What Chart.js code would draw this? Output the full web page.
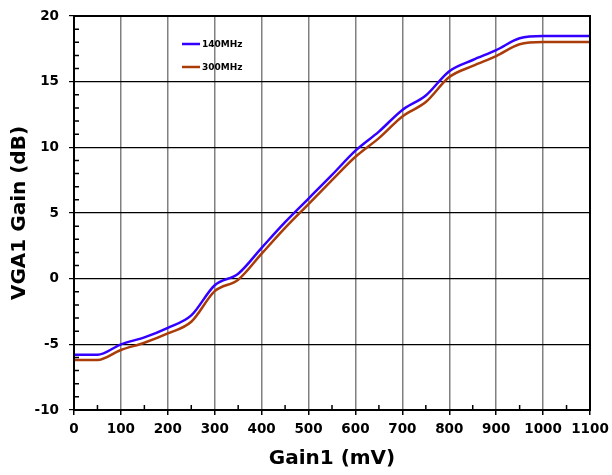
<!DOCTYPE html>
<html>
<head>
<meta charset="utf-8">
<script src="https://cdn.jsdelivr.net/npm/chart.js@4/dist/chart.umd.min.js"></script>
<style>
  html, body { margin: 0; padding: 0; background: #fff; }
  #wrap { width: 612px; height: 475px; }
</style>
</head>
<body>
<div id="wrap"><canvas id="gainChart"></canvas></div>
<script>
// Gain1 control voltage (mV)
const gainMv = [0, 50, 100, 150, 200, 250, 300, 350, 400, 450, 500, 550,
  600, 650, 700, 750, 800, 850, 900, 950, 1000, 1050, 1100];
// VGA1 gain (dB) per frequency
const gain140 = [-5.8, -5.8, -5.0, -4.47, -3.74, -2.8, -0.5, 0.38, 2.35, 4.3, 6.1, 7.9,
  9.75, 11.2, 12.85, 13.95, 15.8, 16.65, 17.4, 18.3, 18.47, 18.47, 18.47];
const gain300 = [-6.2, -6.2, -5.43, -4.88, -4.17, -3.28, -0.95, -0.08, 1.9, 3.86, 5.68, 7.5,
  9.28, 10.7, 12.35, 13.45, 15.35, 16.2, 16.95, 17.85, 18.02, 18.02, 18.02];
const seriesNames = ["140MHz", "300MHz"];
const xTicks = { min: 0, max: 1100, step: 100, minor: 50 };
const yTicks = { min: -10, max: 20, step: 5, minor: 1 };

const FONT = "'DejaVu Sans', Verdana, sans-serif";

// frame, minor ticks and the small legend inside the plot
const framePlugin = {
  id: 'frame',
  afterDraw(chart) {
    const { ctx, chartArea: a, scales } = chart;
    ctx.save();
    ctx.strokeStyle = '#000';
    ctx.lineWidth = 1.5;
    ctx.beginPath();
    for (let v = xTicks.min + xTicks.minor; v < xTicks.max; v += xTicks.step) {
      const px = scales.x.getPixelForValue(v);
      ctx.moveTo(px, a.bottom);
      ctx.lineTo(px, a.bottom - 5);
    }
    for (let v = yTicks.min + yTicks.minor; v < yTicks.max; v += yTicks.minor) {
      if (v % yTicks.step === 0) continue;
      const py = scales.y.getPixelForValue(v);
      ctx.moveTo(a.left, py);
      ctx.lineTo(a.left + 5, py);
    }
    ctx.stroke();
    ctx.lineWidth = 2;
    ctx.strokeRect(a.left, a.top, a.right - a.left, a.bottom - a.top);

    // legend
    ctx.font = 'bold 9px ' + FONT;
    ctx.textBaseline = 'middle';
    chart.data.datasets.forEach((ds, i) => {
      const y = 44 + i * 23;
      ctx.strokeStyle = ds.borderColor;
      ctx.lineWidth = 2.5;
      ctx.beginPath();
      ctx.moveTo(182, y);
      ctx.lineTo(200, y);
      ctx.stroke();
      ctx.fillStyle = '#000';
      ctx.fillText(ds.label, 202, y + 0.5);
    });
    ctx.restore();
  }
};

const ctx = document.getElementById('gainChart').getContext('2d');
new Chart(ctx, {
  type: 'line',
  data: {
    datasets: [
      { label: seriesNames[0], data: gainMv.map((x, i) => ({ x, y: gain140[i] })),
        borderColor: '#3300ff', borderWidth: 2.5 },
      { label: seriesNames[1], data: gainMv.map((x, i) => ({ x, y: gain300[i] })),
        borderColor: '#aa3c0a', borderWidth: 2.5 }
    ]
  },
  options: {
    responsive: true,
    maintainAspectRatio: false,
    animation: false,
    events: [],
    layout: { padding: { left: 0, right: 22, top: 16, bottom: 0 } },
    elements: {
      point: { radius: 0 },
      line: { cubicInterpolationMode: 'monotone', fill: false }
    },
    plugins: { legend: { display: false }, tooltip: { enabled: false } },
    scales: {
      x: {
        type: 'linear',
        min: xTicks.min, max: xTicks.max,
        afterFit: s => { s.height = 65; s.paddingLeft = 0; s.paddingRight = 0; },
        ticks: { stepSize: xTicks.step, color: '#000', padding: 6,
          maxRotation: 0, minRotation: 0, autoSkip: false,
          callback: v => String(v),
          font: { family: FONT, size: 13.5, weight: 'bold' } },
        grid: { color: c => c.tick && c.tick.value % 1100 === 0 ? '#000' : '#808080',
          lineWidth: 1.5, tickLength: 5, tickColor: '#000' },
        border: { color: '#000', width: 2 },
        title: { display: true, text: 'Gain1 (mV)', color: '#000', padding: { top: 2 },
          font: { family: FONT, size: 20, weight: 'bold' } }
      },
      y: {
        min: yTicks.min, max: yTicks.max,
        afterFit: s => { s.width = 74; s.paddingTop = 0; s.paddingBottom = 0; },
        ticks: { stepSize: yTicks.step, color: '#000', padding: 10,
          font: { family: FONT, size: 13.5, weight: 'bold' } },
        grid: { color: '#000', lineWidth: 1.2, tickLength: 5, tickColor: '#000' },
        border: { color: '#000', width: 2 },
        title: { display: true, text: 'VGA1 Gain (dB)', color: '#000', padding: { top: 8, bottom: 0 },
          font: { family: FONT, size: 20, weight: 'bold' } }
      }
    }
  },
  plugins: [framePlugin]
});
</script>
</body>
</html>
